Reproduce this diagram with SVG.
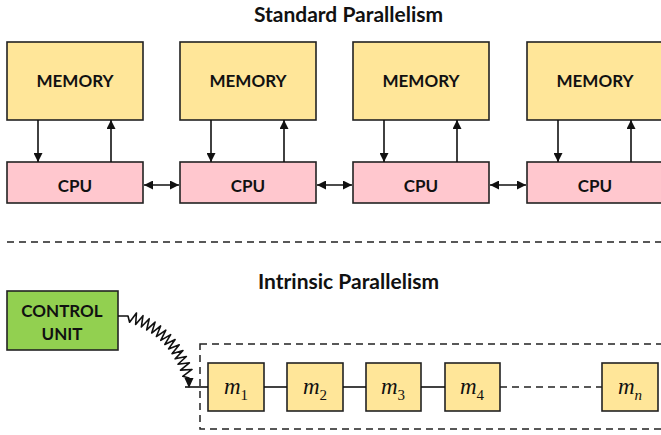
<svg xmlns="http://www.w3.org/2000/svg" width="661" height="435" viewBox="0 0 661 435">
<defs>
<style>
.t{font-family:Lato,"Liberation Sans",sans-serif;font-weight:bold;fill:#111;text-anchor:middle}
.title{font-size:21px}
.lbl{font-size:17px}
.mem{fill:#FFE699;stroke:#222;stroke-width:1.6}
.cpu{fill:#FFC7CE;stroke:#222;stroke-width:1.6}
.cu{fill:#92D050;stroke:#222;stroke-width:1.6}
.cell{fill:#FFE699;stroke:#222;stroke-width:1.6}
.ln{stroke:#111;stroke-width:1.6;fill:none}
.dash{stroke:#222;stroke-width:1.5;fill:none;stroke-dasharray:7 5}
.m{font-family:"Liberation Serif","DejaVu Serif",serif;font-size:23px;fill:#111;text-anchor:middle}
</style>
<marker id="ah" viewBox="0 0 10 10" refX="10" refY="5" markerWidth="9" markerHeight="9" markerUnits="userSpaceOnUse" orient="auto-start-reverse">
<path d="M0,0 L10,5 L0,10 z" fill="#111"/>
</marker>
</defs>
<rect width="661" height="435" fill="#fff"/>
<text class="t title" x="348.5" y="22">Standard Parallelism</text>
<text class="t title" x="348.5" y="289">Intrinsic Parallelism</text>

<g id="mem1"><rect class="mem" x="7" y="42" width="136" height="78"/><text class="t lbl" x="75" y="87">MEMORY</text></g>
<g id="mem2"><rect class="mem" x="180" y="42" width="136" height="78"/><text class="t lbl" x="248" y="87">MEMORY</text></g>
<g id="mem3"><rect class="mem" x="353" y="42" width="136" height="78"/><text class="t lbl" x="421" y="87">MEMORY</text></g>
<g id="mem4"><rect class="mem" x="527" y="42" width="140" height="78"/><text class="t lbl" x="595" y="87">MEMORY</text></g>

<g id="cpu1"><rect class="cpu" x="7" y="162" width="136" height="41"/><text class="t lbl" x="75" y="192">CPU</text></g>
<g id="cpu2"><rect class="cpu" x="180" y="162" width="136" height="41"/><text class="t lbl" x="248" y="192">CPU</text></g>
<g id="cpu3"><rect class="cpu" x="353" y="162" width="136" height="41"/><text class="t lbl" x="421" y="192">CPU</text></g>
<g id="cpu4"><rect class="cpu" x="527" y="162" width="140" height="41"/><text class="t lbl" x="595" y="192">CPU</text></g>

<g id="control"><rect class="cu" x="7" y="291" width="111" height="59"/><text class="t lbl" x="62" y="317">CONTROL</text><text class="t lbl" x="62" y="340">UNIT</text></g>

<g id="m1"><rect class="cell" x="208" y="363" width="56" height="48"/><text class="m" x="236" y="394"><tspan font-style="italic">m</tspan><tspan font-size="15" dy="6">1</tspan></text></g>
<g id="m2"><rect class="cell" x="287" y="363" width="56" height="48"/><text class="m" x="315" y="394"><tspan font-style="italic">m</tspan><tspan font-size="15" dy="6">2</tspan></text></g>
<g id="m3"><rect class="cell" x="366" y="363" width="55" height="48"/><text class="m" x="393" y="394"><tspan font-style="italic">m</tspan><tspan font-size="15" dy="6">3</tspan></text></g>
<g id="m4"><rect class="cell" x="445" y="363" width="55" height="48"/><text class="m" x="472" y="394"><tspan font-style="italic">m</tspan><tspan font-size="15" dy="6">4</tspan></text></g>
<g id="mn"><rect class="cell" x="602" y="363" width="56" height="48"/><text class="m" x="630" y="394"><tspan font-style="italic">m</tspan><tspan font-size="15" dy="6" font-style="italic">n</tspan></text></g>

<g id="connectors">
<line class="ln" x1="38" y1="120" x2="38" y2="162" marker-end="url(#ah)"/>
<line class="ln" x1="111" y1="162" x2="111" y2="120" marker-end="url(#ah)"/>
<line class="ln" x1="211" y1="120" x2="211" y2="162" marker-end="url(#ah)"/>
<line class="ln" x1="284" y1="162" x2="284" y2="120" marker-end="url(#ah)"/>
<line class="ln" x1="384" y1="120" x2="384" y2="162" marker-end="url(#ah)"/>
<line class="ln" x1="457" y1="162" x2="457" y2="120" marker-end="url(#ah)"/>
<line class="ln" x1="558" y1="120" x2="558" y2="162" marker-end="url(#ah)"/>
<line class="ln" x1="631" y1="162" x2="631" y2="120" marker-end="url(#ah)"/>
<line class="ln" x1="144" y1="185" x2="179" y2="185" marker-start="url(#ah)" marker-end="url(#ah)"/>
<line class="ln" x1="317" y1="185" x2="352" y2="185" marker-start="url(#ah)" marker-end="url(#ah)"/>
<line class="ln" x1="490" y1="185" x2="526" y2="185" marker-start="url(#ah)" marker-end="url(#ah)"/>

<line class="dash" x1="7" y1="242" x2="661" y2="242"/>
<rect class="dash" x="200" y="344" width="470" height="85"/>

<line class="ln" x1="185" y1="387" x2="208" y2="387"/>
<line class="ln" x1="264" y1="387" x2="287" y2="387"/>
<line class="ln" x1="343" y1="387" x2="366" y2="387"/>
<line class="ln" x1="421" y1="387" x2="445" y2="387"/>
<line class="dash" x1="500" y1="387" x2="602" y2="387"/>

<polyline class="ln" stroke-linejoin="round" points="118,316 128,316 129.59,322.27 136.45,313.01 135.63,324.49 143.00,315.67 141.33,327.03 149.22,318.71 146.68,329.89 155.09,322.13 151.69,333.05 160.63,325.93 156.39,336.54 165.83,330.10 160.76,340.33 170.67,334.65 164.82,344.46 175.14,339.55 168.56,348.91 179.26,344.83 172.01,353.70 182.99,350.48 175.15,358.83 186.37,356.46 177.99,364.29 189.38,362.79 180.50,370.13 192.01,369.46 182.73,376.33 189,378 189,380"/>
<path d="M184.5,378 L193.5,378 L189,388 z" fill="#111"/>
</g>
</svg>
